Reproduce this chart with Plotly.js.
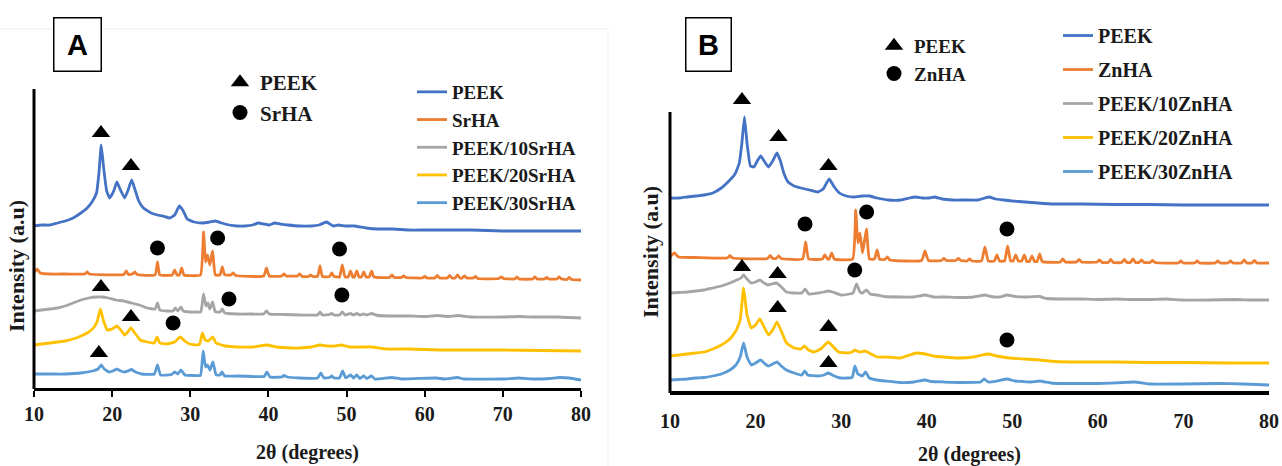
<!DOCTYPE html>
<html>
<head>
<meta charset="utf-8">
<script src="https://cdn.plot.ly/plotly-3.0.1.min.js"></script>
<style>
html,body{margin:0;padding:0;background:#fff;}
#chart{width:1282px;height:466px;}
</style>
</head>
<body>
<div id="chart"></div>
<script>
// ---------- Panel A (SrHA) ----------
const seriesNamesA = ["PEEK", "SrHA", "PEEK/10SrHA", "PEEK/20SrHA", "PEEK/30SrHA"];

const a_peek_x = [10,11,12,13,14,15,16,16.8,17.5,18.0,18.3,18.6,18.9,19.3,19.7,20.2,20.6,21.0,21.6,22.0,22.5,22.9,23.4,24.0,25.0,25.8,26.5,27.4,28.0,28.6,29.1,29.6,30.5,31.5,32.5,33.2,34.0,35.0,36.0,37.0,38.0,38.7,39.4,40.1,40.8,41.5,42.5,44.0,45.5,46.5,47.4,48.3,49.0,49.8,51.0,52.5,54,56,58,60,63,66,70,74,77,80];
const a_peek_y = [163,164,164,166,168,171,176,181,188,196,215,244,222,198,191,198,207,200,191,198,209,200,188,181,176,174,173,171,174,183,178,170,167,166,167,168,166,164,163,163,164,166,165,164,166,165,164,163,163,164,167,163,164,163,163,161,160,160,159,159,159,159,158,158,158,158];

const a_srha_x = [10.0,10.4,10.8,12,14,16.5,16.8,17.1,21.5,21.8,22.1,22.6,22.9,23.2,25.5,25.8,26.1,27.7,28.0,28.3,28.6,28.9,29.2,31.3,31.7,31.95,32.2,32.5,32.85,33.2,33.8,34.1,34.4,35.2,35.5,35.8,39.4,39.75,40.1,41.7,42.0,42.3,43.7,44.0,44.3,45.1,45.4,45.7,46.3,46.6,46.9,47.8,48.1,48.4,49.1,49.45,49.8,50.2,50.5,50.8,51.0,51.3,51.6,51.9,52.2,52.5,52.9,53.2,53.5,55.5,55.8,56.1,57.0,57.3,57.6,59.7,60.0,60.3,61.3,61.6,61.9,62.9,63.2,63.5,63.9,64.2,64.5,64.8,65.1,65.4,66.2,66.5,66.8,69.5,69.8,70.1,71.5,71.8,72.1,73.8,74.1,74.4,75.3,75.6,75.9,76.9,77.2,77.5,78.2,78.5,78.8,80];
const a_srha_y = [116,120,116,115,115,115,117,115,114.5,118,114.5,115,117,114.5,114,127,114,114,119,114,114,121,114,114,157,127,134,124,138,114,114,122,114,114,116,113.5,113,121,113,113,115,113,113,115,112.5,112.5,114,112.5,112.5,123,112.5,112.5,116,112.5,112,124,112,112,118,112,112,118,112,112,117,112,112,118,112,111.5,114,111.5,111.5,113,111.5,111,112.5,111,111,113.5,111,111,113.5,111,111,114,111,111,113,111,111,112.5,110.5,110.5,112,110.5,110,112,110,110,112,110,110,111.5,110,110,112,110,109.5,111.5,109.5,109];

const a_p10_x = [10,11,12,13,14,15,16,17,18,18.7,19.5,20.5,21.5,22.5,23.5,24.5,25.5,25.8,26.1,27,27.8,28.1,28.4,28.8,29.1,30,31,31.35,31.7,32.0,32.25,32.5,32.85,33.2,33.8,34.1,34.4,36,38,39.4,39.75,40.1,42,44,46.3,46.6,46.9,47.8,48.1,48.4,49.1,49.45,49.8,50.5,50.9,51.3,51.7,52.2,52.6,53.2,54,56,58,60,61.6,63,64.2,66,70,72,74,77,80];
const a_p10_y = [78,79,80,81,83,86,89,91,92,92,91,89,88,86,84,81,80,86,79,78,78,81,78,82,78,77,77,77,95,83,86,80,87,77,77,80,76,75,75,75,78,75,74.5,74,74,77,74,74.5,75.5,74,74,77,74,75.5,74,75.5,74,75,74,75.5,73.5,73,73,72.5,73.5,72.5,73.5,72,72,72.5,72,72,71];

const a_p20_x = [10,11,12,13,14,15,16,17,17.7,18.1,18.5,18.9,19.4,20.0,20.6,21.1,21.6,22.0,22.4,22.9,23.6,24.5,25.4,25.75,26.1,27,28.0,28.7,29.3,29.9,30.8,31.2,31.55,31.9,32.3,32.85,33.3,34.0,34.5,36,38,39.8,41,43,44,45.5,46.6,47.5,48.5,49.3,50.5,52,53.2,55,58,62,66,70,75,80];
const a_p20_y = [44,45,46,47,48,50,53,57,62,68,80,68,59,60,63,59,54,57,61,56,49,47,46,52,46,45,47,52,48,45,44,45,56,49,48,52,46,44,43,42,42,44,42,41,41,42,44,43,43,44,42,42,42,40,40,39,39,39,38.5,38];

const a_p30_x = [10,12,14,16,17.5,18.2,18.6,19.0,19.6,20.1,20.6,21.1,21.6,22.0,22.5,23.0,23.8,25.4,25.8,26.2,27.6,28.0,28.4,28.8,29.3,30.5,31.3,31.65,31.95,32.2,32.5,32.9,33.3,33.8,34.05,34.4,36,38,39.45,39.8,40.2,41.7,42.0,42.4,44,46.3,46.7,47.1,47.8,48.1,48.4,49.1,49.5,49.9,50.5,50.9,51.3,51.7,52.2,52.6,53.2,53.6,55.8,57,61.5,62.5,64.2,65,70,72,74,76,77.2,78.5,80];
const a_p30_y = [15,15,15,16,18,20,24,20,17,18,20,18,17,18,19.5,17,15,15,24,14,14.5,17,15,19,14,13.5,13.5,38,22,24,19,27,14,14,17,13,13,12.5,12.5,17,12,12,13.5,12,11,11,16,11,11.5,13,11,11,18,11,14,11,14,10.5,13,10.5,13,10,11.5,10,11,10,11.5,10,10,11,10,10.5,11.5,11,9];

// reference marks (A): PEEK triangles and SrHA dots
const a_tri_x = [18.57, 22.41, 18.57, 22.41, 18.3];
const a_tri_y = [256, 223, 102, 72, 36];
const a_dot_x = [25.8, 33.5, 49.1, 34.95, 49.4, 27.8];
const a_dot_y = [141, 151, 140, 90, 94, 66];

// ---------- Panel B (ZnHA) ----------
const seriesNamesB = ["PEEK", "ZnHA", "PEEK/10ZnHA", "PEEK/20ZnHA", "PEEK/30ZnHA"];

const b_peek_x = [10,11,12,13,14,15,16,17,17.6,18.1,18.4,18.7,19.0,19.4,19.8,20.2,20.6,21.0,21.5,22.0,22.5,22.9,23.3,23.8,24.5,25.3,26.3,27.3,27.9,28.6,29.2,29.8,30.6,31.5,32.5,33.3,34.2,35.5,37.0,38.0,38.7,39.5,40.3,40.9,41.8,43,44.5,46.0,46.8,47.3,48.0,49.0,50,51.5,53,55,58,62,66,70,75,80];
const b_peek_y = [195,195,196,197,198,200,205,213,219,230,250,276,250,227,226,232,237,232,226,232,240,232,220,211,207,205,203,201,204,214,206,200,197,196,197,197,195,193,193,195,196,195,195,196,194,193,193,193,195,196,194,193,192,191,190,189,189,188.5,188.5,188,188,188];

const b_znha_x = [10,10.5,11,13,16.7,17.0,17.3,21.4,21.7,22.0,22.4,22.7,23.0,25.5,25.85,26.2,27.8,28.1,28.4,28.6,28.9,29.2,31.35,31.7,31.95,32.2,32.5,32.95,33.3,33.9,34.2,34.5,35.1,35.4,35.7,39.4,39.8,40.2,41.7,42.0,42.3,43.4,43.7,44.0,44.7,45.0,45.3,46.4,46.8,47.2,47.9,48.2,48.5,49.1,49.45,49.8,50.1,50.4,50.7,51.1,51.4,51.7,52.0,52.3,52.6,52.9,53.2,53.5,55.6,55.9,56.2,57.5,57.8,58.1,59.9,60.2,60.5,61.2,61.5,61.8,62.8,63.1,63.4,63.8,64.1,64.4,64.8,65.1,65.4,66.1,66.4,66.7,69.4,69.7,70.0,71.3,71.6,71.9,73.7,74.0,74.3,75.2,75.5,75.8,76.8,77.1,77.4,78.0,78.3,78.6,80];
const b_znha_y = [136,140,136,135.5,135,137.5,135,134.5,137.5,134.5,134.5,137,134.5,134,151,134,134,138,134,134,140,134,134,183,150,160,140,164,134,134,143,133.5,133.5,136,133,132.5,142,132.5,132.5,134.5,132.5,132.5,134.5,132.5,132,134,132,132,146,132,132,138,132,132,147,132,132,138,132,132,138,131.5,131.5,137,131.5,131.5,139,131.5,131,134,131,131,133.5,131,131,133,130.5,130.5,133.5,130.5,130.5,133.5,130.5,130.5,134,130.5,130.5,133,130.5,130.5,132.5,130.5,130,132,130,130,132,130,130,132,130,130,132,130,130,133,130,130,132.5,130,130];

const b_p10_x = [10,11,12,13,14,15,16,17,17.8,18.3,18.6,19.0,19.5,20.0,20.5,21.0,21.4,21.9,22.4,22.9,23.6,24.5,25.4,25.8,26.2,27.3,28.0,28.5,29.0,30.0,31.0,31.4,31.8,32.2,32.5,32.95,33.4,34.2,35.0,36.9,38.5,39.8,40.8,42,44,45.5,46.8,47.5,48.5,49.4,50.3,51.5,53.2,54,56,58,60,62,64,66,68,70,73,76,78,80];
const b_p10_y = [100,100.5,101,102,103,105,107,110,113,115,118,114,110,111,113,110,108,109,110,107,101,100,100,104,99,100,101,102,101,98,99,100,109,101,100,103,99,98,96.5,96,96,98,96,96,95.5,96,98,96.5,96,98,96.5,96,96.5,94.5,94,94,93.5,94,93.5,93.5,94,93,93,93.5,93,93];

const b_p20_x = [10,11,12,13,14,15,16,17,17.7,18.2,18.6,19.0,19.5,20.0,20.5,21.0,21.5,22.0,22.5,23.0,23.6,24.5,25.3,25.7,26.2,26.8,27.6,28.5,29.1,29.7,30.7,31.3,31.6,32.1,32.8,33.5,34.2,35.5,36.9,38.0,38.8,39.8,40.8,42,43.7,45.5,46.5,47.2,48.2,49.7,51.5,53.2,55,58,62,66,70,75,80];
const b_p20_y = [37,38,39,40,41,44,48,54,62,73,105,78,65,68,74,66,58,63,71,62,50,45,44,47,43,41,44,51,46,41,40,41,43,41,42,39,36,36,35,38,40,39,37,36,35,36,38,39,37,35,34,33,31.5,31,31,30.5,30.5,30,30];

const b_p30_x = [10,11,12,13,14,15,16,17,17.7,18.2,18.6,19.0,19.5,20.0,20.6,21.0,21.5,22.0,22.5,23.0,23.6,24.5,25.4,25.75,26.1,27.3,28.0,28.5,29.2,29.9,30.8,31.3,31.6,31.95,32.2,32.5,32.85,33.3,34.2,35.2,36.9,38.5,39.8,40.5,42,44,46.3,46.7,47.2,48.2,49.4,50.3,51.2,52.2,53.2,54.5,56,58,60,63,64.3,66,70,74,77,80];
const b_p30_y = [13,13.5,14,15,15.5,17,19,23,28,36,50,36,28,30,33,30,27,29,31,27,23,20,18,22,18,17,18,20,17,15,15,15.5,27,19,18,17,21,15,13,12,10.5,11,13,11.5,11,10.5,11,14,11,12,14,12,11.5,11,12,10,9.5,9.5,9.5,10.5,11,9,9,9.5,9,8];

// reference marks (B): PEEK triangles and ZnHA dots
const b_tri_x = [18.41, 22.68, 28.52, 18.41, 22.58, 22.58, 28.52, 28.52];
const b_tri_y = [293, 256, 227, 126, 119, 85, 66, 30];
const b_dot_x = [25.78, 32.98, 49.38, 31.59, 49.38];
const b_dot_y = [169, 181, 164, 123, 53];

// ---------- styling ----------
const colors = ["#4472C4", "#ED7D31", "#A5A5A5", "#FFC000", "#5B9BD5"];
const serif = "Liberation Serif";

const aX = [a_peek_x, a_srha_x, a_p10_x, a_p20_x, a_p30_x];
const aY = [a_peek_y, a_srha_y, a_p10_y, a_p20_y, a_p30_y];
const bX = [b_peek_x, b_znha_x, b_p10_x, b_p20_x, b_p30_x];
const bY = [b_peek_y, b_znha_y, b_p10_y, b_p20_y, b_p30_y];

const traces = [];
seriesNamesA.forEach((n, i) => {
  traces.push({x: aX[i], y: aY[i], name: n, type: "scatter", mode: "lines",
    line: {color: colors[i], width: 2.8, shape: "spline", smoothing: 0.35},
    xaxis: "x", yaxis: "y", legend: "legend"});
});
traces.push({x: a_tri_x, y: a_tri_y, name: "PEEK", type: "scatter", mode: "markers",
  marker: {symbol: "triangle-up", size: 16, color: "#000"}, cliponaxis: false,
  xaxis: "x", yaxis: "y", legend: "legend2"});
traces.push({x: a_dot_x, y: a_dot_y, name: "SrHA", type: "scatter", mode: "markers",
  marker: {symbol: "circle", size: 15, color: "#000"}, cliponaxis: false,
  xaxis: "x", yaxis: "y", legend: "legend2"});

seriesNamesB.forEach((n, i) => {
  traces.push({x: bX[i], y: bY[i], name: n, type: "scatter", mode: "lines",
    line: {color: colors[i], width: 2.8, shape: "spline", smoothing: 0.35},
    xaxis: "x2", yaxis: "y2", legend: "legend3", legendgroup: "b" + i});
});
traces.push({x: b_tri_x, y: b_tri_y, name: "PEEK", type: "scatter", mode: "markers",
  marker: {symbol: "triangle-up", size: 16, color: "#000"}, cliponaxis: false,
  xaxis: "x2", yaxis: "y2", legend: "legend4"});
traces.push({x: b_dot_x, y: b_dot_y, name: "ZnHA", type: "scatter", mode: "markers",
  marker: {symbol: "circle", size: 15, color: "#000"}, cliponaxis: false,
  xaxis: "x2", yaxis: "y2", legend: "legend4"});

const W = 1282, H = 466;
const px = v => v / W;
const py = v => 1 - v / H;

function bold(size) { return {family: serif, size: size, color: "#1a1a1a", weight: 700}; }

const layout = {
  width: W, height: H,
  margin: {l: 0, r: 0, t: 0, b: 0},
  paper_bgcolor: "#fff", plot_bgcolor: "rgba(0,0,0,0)",
  showlegend: true,
  xaxis: {domain: [px(34), px(581)], range: [10, 80], anchor: "free", position: py(389),
    tickvals: [10,20,30,40,50,60,70,80], ticks: "outside", ticklen: 6, tickwidth: 2, tickcolor: "#000",
    showline: true, linecolor: "#000", linewidth: 3, showgrid: false, zeroline: false,
    tickfont: bold(20), ticklabelstandoff: 0,
    title: {text: "2θ (degrees)", font: bold(20), standoff: 20}},
  yaxis: {domain: [py(443), py(89)], range: [-54, 300], anchor: "x",
    showline: false, showgrid: false, zeroline: false,
    showticklabels: false, ticks: "",
    title: {text: "Intensity (a.u)", font: bold(22), standoff: 2}},
  xaxis2: {domain: [px(670), px(1269)], range: [10, 80], anchor: "free", position: py(393),
    tickvals: [10,20,30,40,50,60,70,80], ticks: "",
    showline: true, linecolor: "#000", linewidth: 4, showgrid: false, zeroline: false,
    tickfont: bold(20), ticklabelstandoff: 9,
    title: {text: "2θ (degrees)", font: bold(20), standoff: 15}},
  yaxis2: {domain: [py(412), py(92)], range: [-19, 301], anchor: "x2",
    showline: false, showgrid: false, zeroline: false,
    showticklabels: false, ticks: "",
    title: {text: "Intensity (a.u)", font: bold(22), standoff: 4}},
  legend: {x: px(412), y: py(73), xanchor: "left", yanchor: "top", bgcolor: "rgba(0,0,0,0)",
    font: bold(19)},
  legend2: {x: px(220), y: py(62), xanchor: "left", yanchor: "top", bgcolor: "rgba(0,0,0,0)",
    font: bold(21)},
  legend3: {x: px(1058), y: py(16), xanchor: "left", yanchor: "top", bgcolor: "rgba(0,0,0,0)",
    font: bold(20), tracegroupgap: 5, traceorder: "grouped"},
  legend4: {x: px(874), y: py(27), xanchor: "left", yanchor: "top", bgcolor: "rgba(0,0,0,0)",
    font: bold(19)},
  annotations: [
    {text: "A", xref: "paper", yref: "paper", x: px(77.5), y: py(44.5), xanchor: "center", yanchor: "middle",
     showarrow: false, width: 46, height: 52, borderpad: 0, bordercolor: "#000", borderwidth: 1.5, bgcolor: "#fff",
     font: {family: "Liberation Sans", size: 29, color: "#000", weight: 700}},
    {text: "B", xref: "paper", yref: "paper", x: px(708.5), y: py(44.5), xanchor: "center", yanchor: "middle",
     showarrow: false, width: 44, height: 52, borderpad: 0, bordercolor: "#000", borderwidth: 1.5, bgcolor: "#fff",
     font: {family: "Liberation Sans", size: 29, color: "#000", weight: 700}}
  ],
  shapes: [
    // y-axis lines (drawn over the visible value span only)
    {type: "line", xref: "x domain", yref: "y", x0: 0, x1: 0, y0: 0, y1: 300,
     line: {color: "#000", width: 3}, layer: "above"},
    {type: "line", xref: "x2 domain", yref: "y2", x0: 0, x1: 0, y0: 0, y1: 281,
     line: {color: "#000", width: 3}, layer: "above"},
    // faint frame of panel A image
    {type: "line", xref: "paper", yref: "paper", x0: 0, x1: px(608), y0: py(29), y1: py(29),
     line: {color: "#eeeeee", width: 1}, layer: "below"},
    {type: "line", xref: "paper", yref: "paper", x0: px(608), x1: px(608), y0: py(29), y1: 0,
     line: {color: "#eeeeee", width: 1}, layer: "below"}
  ]
};

Plotly.newPlot("chart", traces, layout, {displayModeBar: false, staticPlot: true});
</script>
</body>
</html>
